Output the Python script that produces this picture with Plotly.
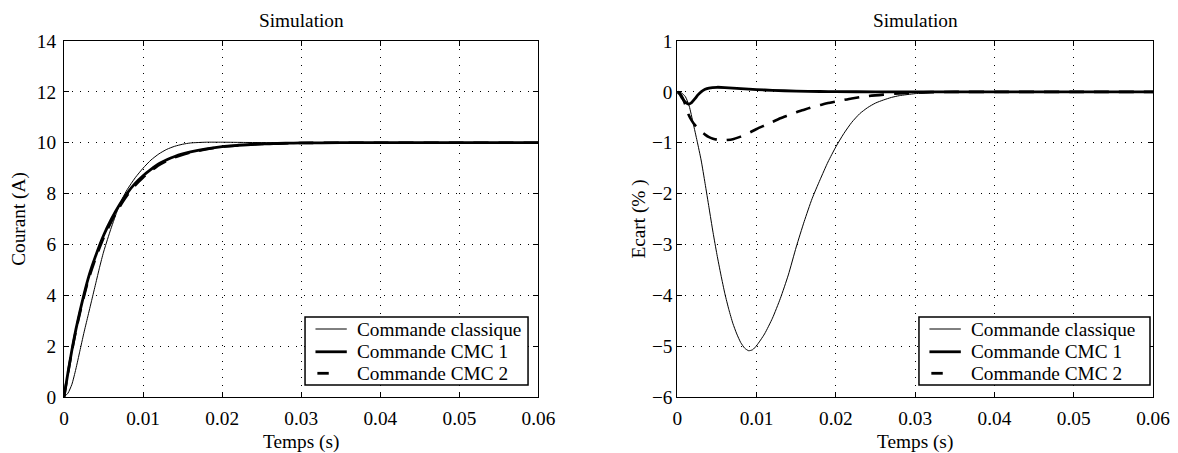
import plotly.graph_objects as go

# ---------------- data ----------------
# Left panel: Courant (A)
t_cls_i = [0, .0005, .001, .0015, .002, .0025, .003, .0035, .004, .0045, .005, .0055, .006, .0065,
           .007, .0075, .008, .009, .010, .011, .012, .013, .014, .015, .016, .018, .020, .023, .027, .03,
           .04, .05, .06]
i_cls = [0, .15, .5, 1.1, 1.8, 2.5, 3.15, 3.8, 4.45, 5.1, 5.7, 6.2, 6.68, 7.12,
         7.55, 7.88, 8.16, 8.62, 9.0, 9.32, 9.56, 9.74, 9.86, 9.94, 9.99, 10.02, 10.02, 10.01, 10.0, 10.0,
         10.0, 10.0, 10.0]

t_cmc_i = [0, .0005, .001, .0015, .002, .0025, .003, .0035, .004, .005, .006, .007, .008, .009,
           .010, .011, .012, .013, .014, .015, .016, .018, .020, .022, .024, .026, .028, .030,
           .035, .04, .05, .06]
i_cmc1 = [0, .95, 1.85, 2.65, 3.35, 4.0, 4.6, 5.1, 5.55, 6.35, 7.0, 7.55, 8.02, 8.4,
          8.7, 8.95, 9.17, 9.33, 9.46, 9.56, 9.64, 9.76, 9.85, 9.9, 9.94, 9.96, 9.98, 9.99,
          10.0, 10.0, 10.0, 10.0]
i_cmc2 = [0, .93, 1.81, 2.6, 3.29, 3.93, 4.52, 5.01, 5.46, 6.25, 6.91, 7.46, 7.93, 8.32,
          8.63, 8.89, 9.12, 9.29, 9.42, 9.53, 9.62, 9.74, 9.84, 9.89, 9.935, 9.955, 9.975, 9.99,
          10.0, 10.0, 10.0, 10.0]

# Right panel: Ecart (%)
t_cls_e = [0, .0005, .001, .0015, .002, .0025, .003, .0035, .004, .0045, .005, .0055, .006, .0065,
           .007, .0075, .008, .0085, .009, .0095, .010, .011, .012, .013, .014, .015, .016, .017,
           .018, .019, .020, .021, .022, .023, .024, .025, .026, .027, .028, .030, .032, .034,
           .036, .04, .05, .06]
e_cls = [0, -.02, -.09, -.28, -.62, -.97, -1.34, -1.8, -2.28, -2.76, -3.2, -3.6, -3.97, -4.28,
         -4.55, -4.76, -4.93, -5.04, -5.09, -5.07, -4.99, -4.76, -4.45, -4.06, -3.6, -3.05, -2.55, -2.1,
         -1.73, -1.38, -1.08, -.82, -.6, -.43, -.31, -.22, -.16, -.11, -.075, -.035, -.015, -.005,
         0, 0, 0, 0]

t_cmc1_e = [0, .0003, .0006, .001, .0014, .0018, .0022, .0026, .003, .0035, .004, .005, .006, .007,
            .008, .010, .012, .015, .018, .020, .025, .03, .04, .05, .06]
e_cmc1 = [0, -.04, -.12, -.2, -.24, -.21, -.14, -.06, 0.0, .05, .075, .09, .085, .075,
          .065, .045, .03, .015, .007, .004, 0, 0, 0, 0, 0]

t_cmc2_e = [0, .0003, .0006, .001, .0014, .0018, .0022, .0026, .003, .0035, .004, .0045, .005, .0055,
            .006, .007, .008, .009, .010, .011, .012, .013, .014, .015, .016, .017, .018, .019,
            .020, .022, .024, .026, .028, .030, .032, .035, .04, .05, .06]
e_cmc2 = [0, -.03, -.1, -.25, -.44, -.56, -.65, -.72, -.78, -.84, -.89, -.92, -.94, -.95,
          -.95, -.93, -.88, -.81, -.73, -.66, -.59, -.52, -.46, -.4, -.35, -.3, -.26, -.22,
          -.19, -.13, -.085, -.055, -.03, -.015, -.006, 0, 0, 0, 0]

x_ticks = [0, 0.01, 0.02, 0.03, 0.04, 0.05, 0.06]
x_ticktext = ["0", "0.01", "0.02", "0.03", "0.04", "0.05", "0.06"]
y1_ticks = [0, 2, 4, 6, 8, 10, 12, 14]
y2_ticks = [-6, -5, -4, -3, -2, -1, 0, 1]

series_names = ["Commande classique", "Commande CMC 1", "Commande CMC 2"]
title_text = "Simulation"
xlabel = "Temps (s)"
ylabel1 = "Courant (A)"
ylabel2 = "Ecart (% )"

# ---------------- styling ----------------
FONT = "Liberation Serif"
FS = 19.3
TF = dict(family=FONT, size=FS, color="black")
thin = dict(color="black", width=1)
thick = dict(color="black", width=2.8)
dashed = dict(color="black", width=2.6, dash="15px,10px")

fig = go.Figure()
fig.add_trace(go.Scatter(x=t_cls_i, y=i_cls, mode="lines", line=dict(**thin, shape="spline", smoothing=0.6),
                         xaxis="x", yaxis="y", showlegend=False))
fig.add_trace(go.Scatter(x=t_cmc_i, y=i_cmc2, mode="lines", line=dict(**dashed, shape="spline", smoothing=0.6),
                         xaxis="x", yaxis="y", showlegend=False))
fig.add_trace(go.Scatter(x=t_cmc_i, y=i_cmc1, mode="lines", line=dict(**thick, shape="spline", smoothing=0.6),
                         xaxis="x", yaxis="y", showlegend=False))

fig.add_trace(go.Scatter(x=t_cls_e, y=e_cls, mode="lines", line=dict(**thin, shape="spline", smoothing=0.6),
                         xaxis="x2", yaxis="y2", showlegend=False))
fig.add_trace(go.Scatter(x=t_cmc2_e, y=e_cmc2, mode="lines", line=dict(**dashed, shape="spline", smoothing=0.6),
                         xaxis="x2", yaxis="y2", showlegend=False))
fig.add_trace(go.Scatter(x=t_cmc1_e, y=e_cmc1, mode="lines", line=dict(**thick, shape="spline", smoothing=0.6),
                         xaxis="x2", yaxis="y2", showlegend=False))

axis_common = dict(
    showline=True, linecolor="black", linewidth=1, mirror="ticks",
    ticks="inside", ticklen=5, tickcolor="black", tickwidth=1,
    showgrid=True, gridcolor="black", gridwidth=1, griddash="1px,7px",
    zeroline=False, tickfont=TF, automargin=False,
)

fig.update_layout(
    width=1178, height=453,
    margin=dict(l=64, r=25, t=41, b=56),
    paper_bgcolor="white", plot_bgcolor="white",
    font=TF,
    xaxis=dict(domain=[0, 0.4357], range=[0, 0.06], tickvals=x_ticks, ticktext=x_ticktext,
               anchor="y", ticklabelstandoff=4, title=dict(text=xlabel, standoff=6, font=TF), **axis_common),
    yaxis=dict(domain=[0, 1], range=[0, 14], tickvals=y1_ticks, anchor="x",
               title=dict(text=ylabel1, standoff=6, font=TF), ticklabelstandoff=3, **axis_common),
    xaxis2=dict(domain=[0.5632, 1], range=[0, 0.06], tickvals=x_ticks, ticktext=x_ticktext,
                anchor="y2", ticklabelstandoff=4, title=dict(text=xlabel, standoff=6, font=TF), **axis_common),
    yaxis2=dict(domain=[0, 1], range=[-6, 1], tickvals=y2_ticks, anchor="x2",
                title=dict(text=ylabel2, standoff=1, font=TF), ticklabelstandoff=0, **axis_common),
)

# titles
for xr in ["x domain", "x2 domain"]:
    fig.add_annotation(text=title_text, xref=xr, yref="paper", x=0.5, y=1, yshift=21,
                       yanchor="middle", showarrow=False, font=TF)

# legends (MATLAB-style box)
legend_specs = [("x domain", "y domain", 0.978), ("x2 domain", "y2 domain", 0.9937)]
rows_y = [0.191, 0.127, 0.0666]
for xr, yr, xright in legend_specs:
    fig.add_shape(type="rect", xref=xr, yref=yr, x0=0.508, x1=xright, y0=0.0337, y1=0.2247,
                  line=dict(color="black", width=1.5), fillcolor="white", layer="above")
    fig.add_shape(type="line", xref=xr, yref=yr, x0=0.530, x1=0.596, y0=rows_y[0], y1=rows_y[0],
                  line=dict(color="black", width=1), layer="above")
    fig.add_shape(type="line", xref=xr, yref=yr, x0=0.530, x1=0.596, y0=rows_y[1], y1=rows_y[1],
                  line=dict(color="black", width=2.8), layer="above")
    fig.add_shape(type="line", xref=xr, yref=yr, x0=0.534, x1=0.558, y0=rows_y[2], y1=rows_y[2],
                  line=dict(color="black", width=2.8), layer="above")
    for name, ry in zip(series_names, rows_y):
        fig.add_annotation(text=name, xref=xr, yref=yr, x=0.613, y=ry, xanchor="left",
                           yanchor="middle", showarrow=False, font=TF)

fig.write_html("out.html")
